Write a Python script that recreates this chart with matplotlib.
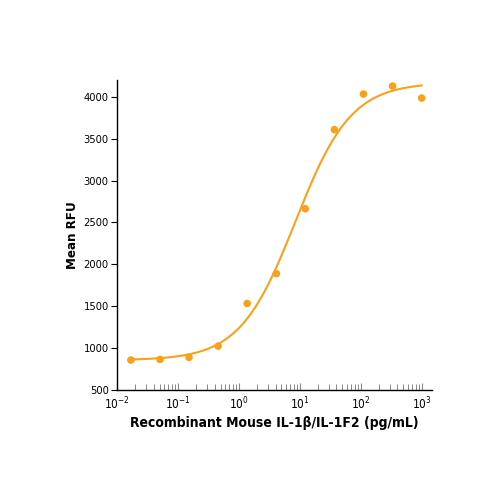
import numpy as np
import matplotlib
matplotlib.use('Agg')
import matplotlib.pyplot as plt
from matplotlib.ticker import LogLocator

plt.rcParams['font.family'] = ['DejaVu Sans']
plt.rcParams['font.stretch'] = 'condensed'
plt.rcParams['mathtext.fontset'] = 'custom'
plt.rcParams['mathtext.rm'] = 'DejaVu Sans:stretch=condensed'

#---data (3-fold dilution series)---
conc = [0.0169, 0.0508, 0.152, 0.457, 1.37, 4.12, 12.3, 37.0, 111.0, 333.0, 1000.0]
rfu = [857, 865, 889, 1024, 1532, 1889, 2663, 3607, 4032, 4127, 3984]

#---4PL fit parameters (bottom, top, ec50, hill)---
fit_bottom = 855
fit_top = 4170
fit_ec50 = 8.5
fit_hill = 0.95

orange = '#F9A11B'

fig = plt.figure(figsize=(5, 5), dpi=100)
ax = fig.add_axes([0.234, 0.22, 0.63, 0.62])

xs = np.logspace(np.log10(conc[0]), np.log10(conc[-1]), 300)
ys = fit_bottom + (fit_top - fit_bottom) / (1 + (fit_ec50 / xs) ** fit_hill)
ax.plot(xs, ys, color=orange, lw=1.5, zorder=2)
ax.scatter(conc, rfu, s=30, color=orange, edgecolors='none', zorder=3)

ax.set_xscale('log')
ax.set_xlim(0.01, 10 ** 3.17)
ax.set_ylim(500, 4200)
ax.set_yticks([500, 1000, 1500, 2000, 2500, 3000, 3500, 4000])
ax.xaxis.set_major_locator(LogLocator(base=10, numticks=10))
ax.xaxis.set_minor_locator(LogLocator(base=10, subs=np.arange(2, 10), numticks=20))

for s in ['top', 'right']:
    ax.spines[s].set_visible(False)
for s in ['left', 'bottom']:
    ax.spines[s].set_linewidth(1.0)

ax.tick_params(axis='x', which='major', direction='in', length=5, width=0.8,
               labelsize=8.5, pad=4, color='#888888')
ax.tick_params(axis='x', which='minor', direction='in', length=4, width=0.7, color='#888888')
ax.tick_params(axis='y', which='major', direction='out', length=4, width=0.8, labelsize=8, pad=2)

ax.set_xlabel('Recombinant Mouse IL-1β/IL-1F2 (pg/mL)', fontsize=10, fontweight='bold', labelpad=3)
ax.set_ylabel('Mean RFU', fontsize=9.5, fontweight='bold', labelpad=3)

fig.savefig('out.png', dpi=100)
